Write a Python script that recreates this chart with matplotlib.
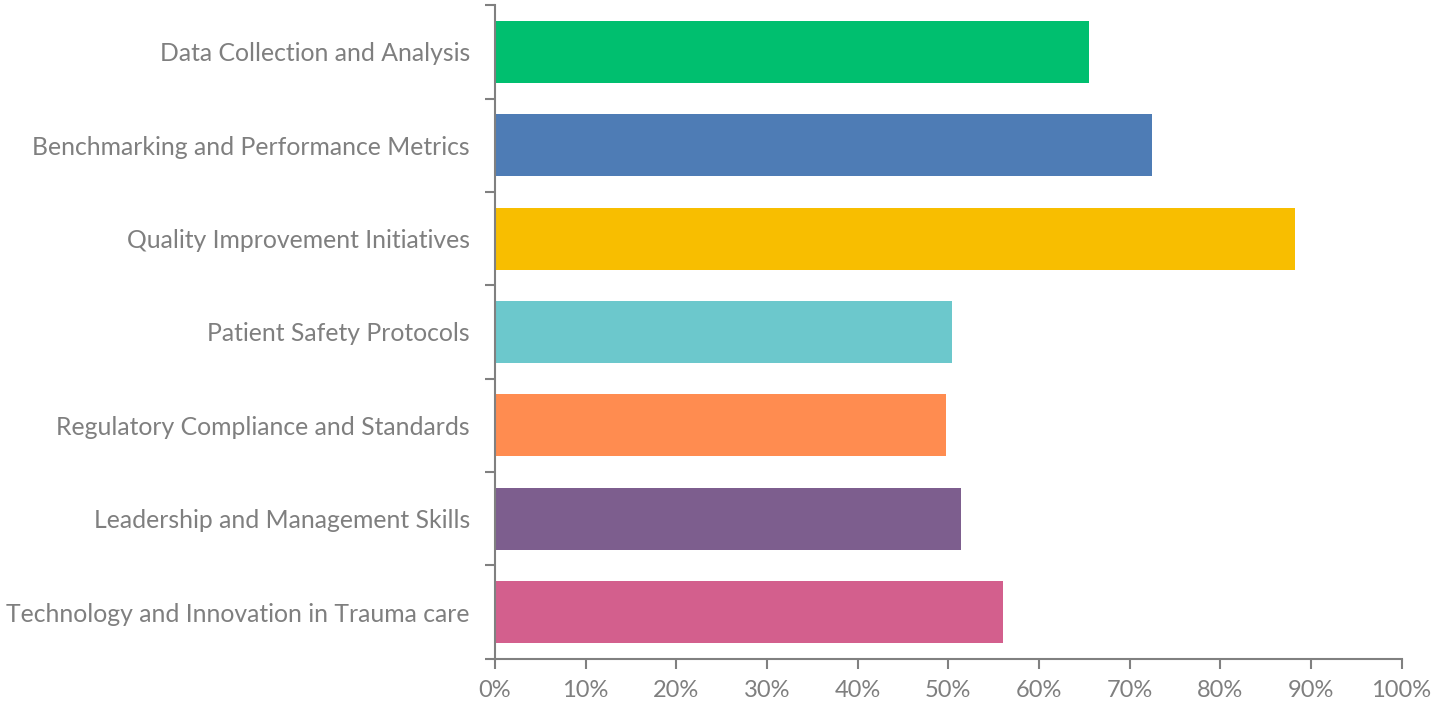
import matplotlib
matplotlib.use("Agg")
import matplotlib.pyplot as plt
from matplotlib.ticker import PercentFormatter

categories = [
    "Data Collection and Analysis",
    "Benchmarking and Performance Metrics",
    "Quality Improvement Initiatives",
    "Patient Safety Protocols",
    "Regulatory Compliance and Standards",
    "Leadership and Management Skills",
    "Technology and Innovation in Trauma care",
]
values = [65.5, 72.5, 88.3, 50.4, 49.8, 51.4, 56.0]
colors = ["#00BF6F", "#4E7CB5", "#F8BE00", "#6CC8CC", "#FF8C50", "#7D5E8E", "#D35F8D"]
x_ticks = list(range(0, 101, 10))

plt.rcParams["font.family"] = ["Lato", "DejaVu Sans"]
AXIS_GREY = "#808080"
TEXT_GREY = "#7F7F7F"

fig = plt.figure(figsize=(14.41, 7.05), dpi=100)
ax = fig.add_axes([0.3435, 0.0657, 0.6291, 0.9268])

positions = list(range(len(categories)))
ax.barh(positions, values, height=0.667, color=colors)
ax.set_ylim(len(categories) - 0.5, -0.5)
ax.set_xlim(0, 100)

# category boundaries carry the tick marks, labels sit at the bar centres
ax.set_yticks([p + 0.5 for p in range(-1, len(categories))], minor=False)
ax.set_yticklabels([])
ax.set_yticks(positions, minor=True)
ax.set_yticklabels(categories, minor=True)
ax.tick_params(axis="y", which="major", length=7, width=1.5, color=AXIS_GREY, direction="out")
ax.tick_params(axis="y", which="minor", length=0, pad=18, labelsize=17.8, labelcolor=TEXT_GREY)

ax.set_xticks(x_ticks)
ax.xaxis.set_major_formatter(PercentFormatter(decimals=0))
ax.tick_params(axis="x", length=7, width=1.5, color=AXIS_GREY, direction="out",
               pad=8, labelsize=17, labelcolor=TEXT_GREY)

for side in ["top", "right"]:
    ax.spines[side].set_visible(False)
for side in ["left", "bottom"]:
    ax.spines[side].set_color(AXIS_GREY)
    ax.spines[side].set_linewidth(1.5)

fig.savefig("out.png", dpi=100)
